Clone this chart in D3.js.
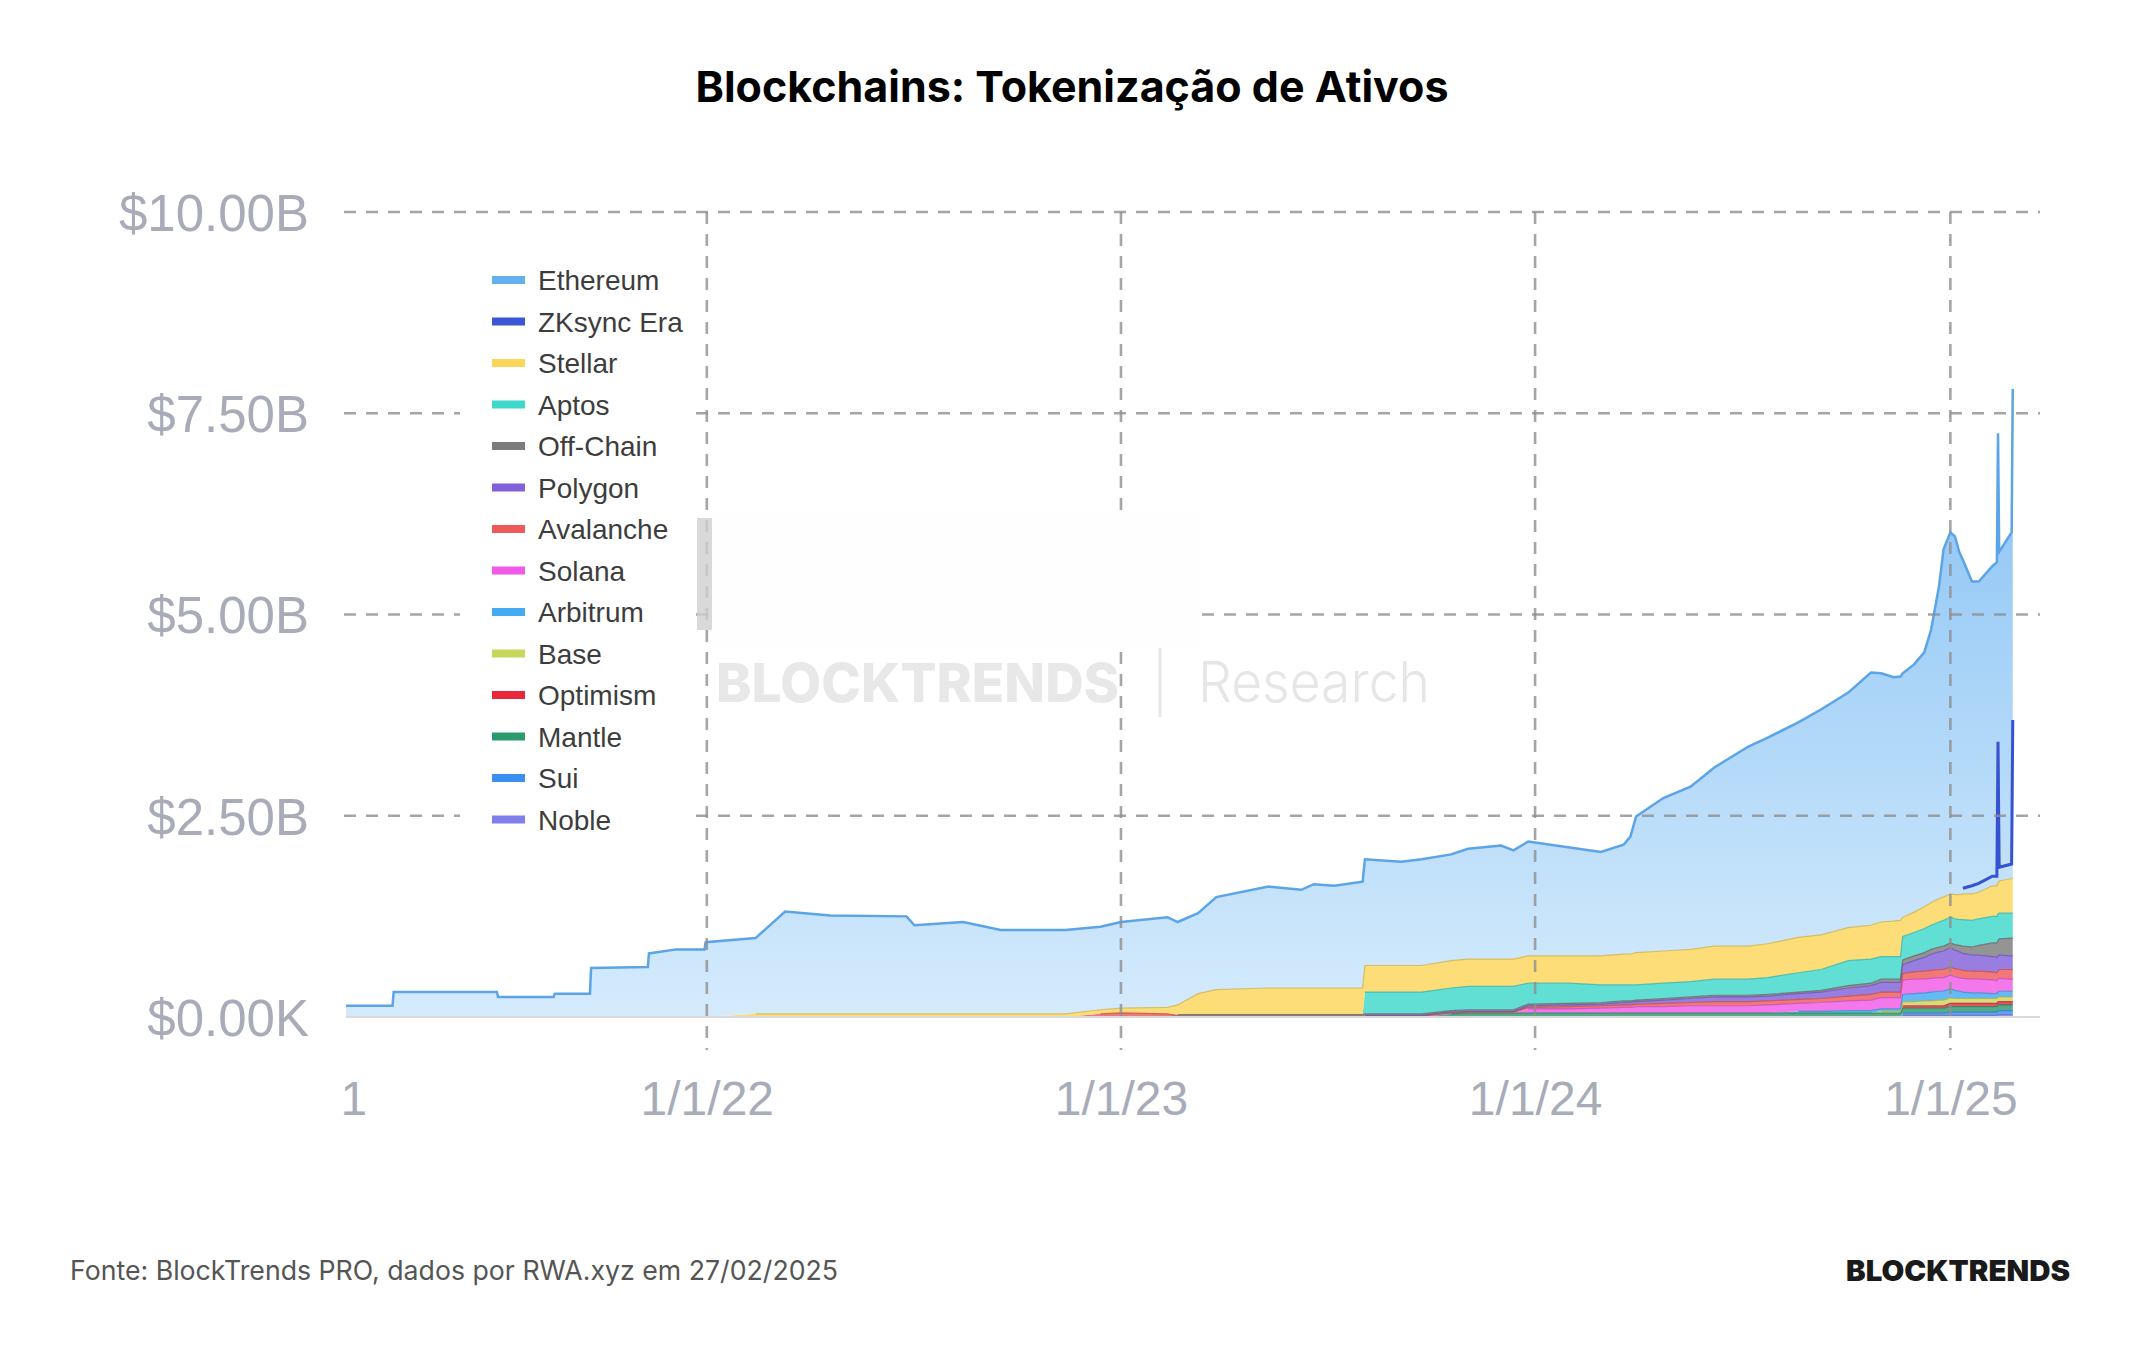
<!DOCTYPE html>
<html>
<head>
<meta charset="utf-8">
<script src="https://cdn.jsdelivr.net/npm/d3@7"></script>
<style>
  html, body { margin: 0; padding: 0; background: #fff; }
  svg { display: block; }
</style>
</head>
<body>
<div id="chart"></div>
<script>
//#region Data (values in $ billions)
const dates = [
  "2021-02-17", "2021-03-30", "2021-03-31", "2021-06-30", "2021-07-01", "2021-08-19", "2021-08-20",
  "2021-09-20", "2021-09-21", "2021-11-10", "2021-11-11", "2021-12-05", "2021-12-30", "2021-12-31",
  "2022-02-13", "2022-03-11", "2022-04-20", "2022-06-26", "2022-07-03", "2022-08-15", "2022-09-17",
  "2022-11-13", "2022-12-14", "2023-01-01", "2023-02-11", "2023-02-20", "2023-03-10", "2023-03-26",
  "2023-05-11", "2023-06-09", "2023-06-20", "2023-07-08", "2023-08-02", "2023-08-04", "2023-09-05",
  "2023-09-23", "2023-10-19", "2023-11-03", "2023-12-02", "2023-12-13", "2023-12-26", "2024-01-30",
  "2024-02-28", "2024-03-19", "2024-03-25", "2024-03-30", "2024-04-23", "2024-05-17", "2024-06-07",
  "2024-07-07", "2024-07-24", "2024-08-20", "2024-09-09", "2024-10-03", "2024-10-23", "2024-11-01",
  "2024-11-12", "2024-11-18", "2024-11-20", "2024-11-30", "2024-12-09", "2024-12-15", "2024-12-22",
  "2024-12-26", "2025-01-01", "2025-01-05", "2025-01-09", "2025-01-12", "2025-01-20", "2025-01-26",
  "2025-02-07", "2025-02-11", "2025-02-12", "2025-02-13", "2025-02-24", "2025-02-25"
];

const ethereum = [
  0.14, 0.14, 0.31, 0.31, 0.25, 0.25, 0.29, 0.29, 0.61, 0.62, 0.79, 0.84, 0.84, 0.93,
  0.94, 1.27, 1.22, 1.21, 1.10, 1.14, 1.04, 1.04,
  1.03, 1.07, 1.12, 1.03, 1.00, 1.15, 1.26, 1.22, 1.29, 1.27, 1.32,
  1.32, 1.29, 1.32, 1.32, 1.37, 1.41, 1.35, 1.42, 1.35, 1.29, 1.36, 1.46, 1.69, 1.90, 2.02, 2.22,
  2.48, 2.56, 2.67, 2.80, 2.92, 3.14, 3.09, 3.03, 3.03,
  3.03, 3.08, 3.16, 3.39, 3.88, 4.32, 4.49, 4.45, 4.25, 4.08, 3.78, 3.75, 3.85, 3.90, 3.83, 3.92, 4.12, 4.11
];
const zksync = [
  0, 0, 0, 0, 0, 0, 0, 0, 0, 0, 0, 0, 0, 0,
  0, 0, 0, 0, 0, 0, 0, 0,
  0, 0, 0, 0, 0, 0, 0, 0, 0, 0, 0,
  0, 0, 0, 0, 0, 0, 0, 0, 0, 0, 0, 0, 0, 0, 0, 0,
  0, 0, 0, 0, 0, 0, 0, 0, 0,
  0, 0, 0, 0, 0, 0, 0, 0, 0, 0.07, 0.10, 0.11, 0.12, 0.12, 1.76, 0.17, 0.18, 1.96
];
const stellar = [
  0, 0, 0, 0, 0, 0, 0, 0, 0, 0, 0, 0, 0, 0,
  0.04, 0.04, 0.04, 0.04, 0.04, 0.04, 0.04, 0.04,
  0.05, 0.06, 0.08, 0.12, 0.26, 0.31, 0.33, 0.33, 0.33, 0.33, 0.33,
  0.33, 0.33, 0.33, 0.34, 0.34, 0.34, 0.34, 0.34, 0.34, 0.36, 0.38, 0.38, 0.40, 0.40, 0.40, 0.41,
  0.41, 0.42, 0.44, 0.43, 0.41, 0.42, 0.43, 0.44, 0.45,
  0.24, 0.25, 0.27, 0.28, 0.29, 0.29, 0.29, 0.30, 0.31, 0.32, 0.33, 0.33, 0.38, 0.38, 0.38, 0.40, 0.43, 0.44
];
const aptos = [
  0, 0, 0, 0, 0, 0, 0, 0, 0, 0, 0, 0, 0, 0,
  0, 0, 0, 0, 0, 0, 0, 0,
  0, 0, 0, 0, 0, 0, 0, 0, 0, 0, 0,
  0.27, 0.27, 0.27, 0.28, 0.29, 0.29, 0.29, 0.26, 0.25, 0.22, 0.20, 0.20, 0.19, 0.19, 0.19, 0.20,
  0.20, 0.21, 0.24, 0.26, 0.31, 0.30, 0.28, 0.28, 0.28,
  0.29, 0.29, 0.30, 0.30, 0.31, 0.32, 0.32, 0.32, 0.32, 0.33, 0.33, 0.33, 0.33, 0.33, 0.33, 0.32, 0.31, 0.31
];
const offChain = [
  0, 0, 0, 0, 0, 0, 0, 0, 0, 0, 0, 0, 0, 0,
  0, 0, 0, 0, 0, 0, 0, 0,
  0, 0, 0, 0.02, 0.02, 0.02, 0.02, 0.02, 0.02, 0.02, 0.02,
  0.02, 0.02, 0.02, 0.02, 0.02, 0.02, 0.02, 0.02, 0.02, 0.02, 0.02, 0.02, 0.02, 0.02, 0.02, 0.02,
  0.02, 0.02, 0.02, 0.02, 0.03, 0.03, 0.04, 0.04, 0.04,
  0.06, 0.06, 0.06, 0.06, 0.06, 0.06, 0.06, 0.07, 0.08, 0.09, 0.10, 0.12, 0.17, 0.18, 0.19, 0.20, 0.22, 0.22
];
const polygon = [
  0, 0, 0, 0, 0, 0, 0, 0, 0, 0, 0, 0, 0, 0,
  0, 0, 0, 0, 0, 0, 0, 0,
  0, 0, 0, 0, 0, 0, 0, 0, 0, 0, 0,
  0.01, 0.01, 0.01, 0.01, 0.01, 0.01, 0.01, 0.02, 0.02, 0.02, 0.03, 0.03, 0.03, 0.04, 0.05, 0.06,
  0.06, 0.06, 0.07, 0.08, 0.10, 0.11, 0.12, 0.12, 0.12,
  0.11, 0.14, 0.17, 0.20, 0.22, 0.23, 0.24, 0.23, 0.22, 0.21, 0.20, 0.20, 0.19, 0.19, 0.19, 0.18, 0.17, 0.17
];
const avalanche = [
  0, 0, 0, 0, 0, 0, 0, 0, 0, 0, 0, 0, 0, 0,
  0, 0, 0, 0, 0, 0, 0, 0,
  0.04, 0.05, 0.04, 0.01, 0.01, 0.01, 0.01, 0.01, 0.01, 0.01, 0.01,
  0.01, 0.01, 0.01, 0.01, 0.01, 0.01, 0.01, 0.02, 0.03, 0.03, 0.03, 0.03, 0.03, 0.04, 0.04, 0.05,
  0.05, 0.05, 0.05, 0.05, 0.06, 0.07, 0.07, 0.07, 0.07,
  0.08, 0.09, 0.10, 0.10, 0.10, 0.10, 0.10, 0.10, 0.10, 0.10, 0.10, 0.10, 0.10, 0.10, 0.10, 0.11, 0.12, 0.12
];
const solana = [
  0, 0, 0, 0, 0, 0, 0, 0, 0, 0, 0, 0, 0, 0,
  0, 0, 0, 0, 0, 0, 0, 0,
  0, 0, 0, 0, 0, 0, 0, 0, 0, 0, 0,
  0, 0, 0, 0, 0, 0, 0, 0.05, 0.05, 0.06, 0.07, 0.07, 0.08, 0.08, 0.09, 0.09,
  0.09, 0.10, 0.10, 0.11, 0.12, 0.13, 0.14, 0.14, 0.14,
  0.18, 0.18, 0.17, 0.17, 0.17, 0.17, 0.17, 0.17, 0.17, 0.17, 0.17, 0.17, 0.17, 0.16, 0.16, 0.16, 0.15, 0.15
];
const arbitrum = [
  0, 0, 0, 0, 0, 0, 0, 0, 0, 0, 0, 0, 0, 0,
  0, 0, 0, 0, 0, 0, 0, 0,
  0, 0, 0, 0, 0, 0, 0, 0, 0, 0, 0,
  0, 0, 0, 0, 0, 0, 0, 0, 0, 0, 0, 0, 0, 0, 0, 0,
  0, 0, 0.02, 0.02, 0.03, 0.03, 0.03, 0.03, 0.03,
  0.09, 0.10, 0.10, 0.11, 0.11, 0.11, 0.11, 0.10, 0.09, 0.08, 0.07, 0.07, 0.06, 0.06, 0.06, 0.07, 0.07, 0.07
];
const base = [
  0, 0, 0, 0, 0, 0, 0, 0, 0, 0, 0, 0, 0, 0,
  0, 0, 0, 0, 0, 0, 0, 0,
  0, 0, 0, 0, 0, 0, 0, 0, 0, 0, 0,
  0, 0, 0, 0, 0, 0, 0, 0, 0, 0, 0, 0, 0, 0, 0, 0,
  0, 0, 0, 0, 0, 0, 0.02, 0.02, 0.02,
  0.05, 0.05, 0.06, 0.06, 0.07, 0.07, 0.07, 0.06, 0.06, 0.06, 0.06, 0.06, 0.06, 0.06, 0.06, 0.06, 0.06, 0.06
];
const optimism = [
  0, 0, 0, 0, 0, 0, 0, 0, 0, 0, 0, 0, 0, 0,
  0, 0, 0, 0, 0, 0, 0, 0,
  0, 0, 0, 0, 0, 0, 0, 0, 0, 0, 0,
  0, 0, 0, 0, 0, 0, 0, 0, 0, 0, 0, 0, 0, 0, 0, 0,
  0, 0, 0, 0, 0, 0, 0, 0, 0,
  0.03, 0.03, 0.03, 0.03, 0.03, 0.03, 0.04, 0.04, 0.04, 0.04, 0.04, 0.04, 0.04, 0.04, 0.04, 0.04, 0.04, 0.04
];
const mantle = [
  0, 0, 0, 0, 0, 0, 0, 0, 0, 0, 0, 0, 0, 0,
  0, 0, 0, 0, 0, 0, 0, 0,
  0, 0, 0, 0, 0, 0, 0, 0, 0, 0, 0,
  0, 0, 0, 0.04, 0.05, 0.05, 0.05, 0.05, 0.05, 0.05, 0.05, 0.05, 0.05, 0.05, 0.05, 0.05,
  0.05, 0.05, 0.05, 0.05, 0.05, 0.05, 0.05, 0.05, 0.05,
  0.06, 0.06, 0.06, 0.06, 0.06, 0.06, 0.07, 0.07, 0.07, 0.07, 0.07, 0.07, 0.07, 0.07, 0.07, 0.07, 0.07, 0.07
];
const sui = [
  0, 0, 0, 0, 0, 0, 0, 0, 0, 0, 0, 0, 0, 0,
  0, 0, 0, 0, 0, 0, 0, 0,
  0, 0, 0, 0, 0, 0, 0, 0, 0, 0, 0,
  0, 0, 0, 0, 0, 0, 0, 0, 0, 0, 0, 0, 0, 0, 0, 0,
  0, 0, 0, 0, 0, 0, 0, 0, 0,
  0.03, 0.03, 0.03, 0.03, 0.03, 0.03, 0.04, 0.04, 0.04, 0.04, 0.04, 0.04, 0.04, 0.04, 0.05, 0.05, 0.05, 0.05
];
const noble = [
  0, 0, 0, 0, 0, 0, 0, 0, 0, 0, 0, 0, 0, 0,
  0, 0, 0, 0, 0, 0, 0, 0,
  0, 0, 0, 0, 0, 0, 0, 0, 0, 0, 0,
  0, 0, 0, 0, 0, 0, 0, 0, 0, 0, 0, 0, 0, 0, 0, 0,
  0, 0, 0, 0, 0, 0, 0, 0, 0,
  0.02, 0.02, 0.02, 0.02, 0.02, 0.02, 0.02, 0.02, 0.02, 0.02, 0.02, 0.02, 0.02, 0.02, 0.03, 0.03, 0.03, 0.03
];

// legend order = top of the stack first
const seriesNames = [
  "Ethereum", "ZKsync Era", "Stellar", "Aptos", "Off-Chain", "Polygon", "Avalanche",
  "Solana", "Arbitrum", "Base", "Optimism", "Mantle", "Sui", "Noble"
];
const seriesColors = [
  "#63b0f0", "#3b57d6", "#fbd65a", "#3fd8cc", "#7c7c7c", "#8161d9", "#ee5a5a",
  "#f05ae6", "#44aaf2", "#c9d65c", "#e8283a", "#2c9a6c", "#3b8ff0", "#7f80ea"
];
const seriesValues = [
  ethereum, zksync, stellar, aptos, offChain, polygon, avalanche,
  solana, arbitrum, base, optimism, mantle, sui, noble
];

const yTicks = [0, 2.5, 5, 7.5, 10];
const yTickLabels = ["$0.00K", "$2.50B", "$5.00B", "$7.50B", "$10.00B"];
const xTicks = ["2021-02-17", "2022-01-01", "2023-01-01", "2024-01-01", "2025-01-01"];
const xTickLabels = ["1", "1/1/22", "1/1/23", "1/1/24", "1/1/25"];
//#endregion

seriesValues.forEach((arr, i) => {
  if (arr.length !== dates.length) console.error("length mismatch", seriesNames[i], arr.length);
});

//#region Setup
const width = 2144, height = 1350;
const parseDate = d3.timeParse("%Y-%m-%d");
const labelColor = "#a8acb8";
const gridColor = "#8f8f8f";

const svg = d3.select("#chart").append("svg")
  .attr("width", width)
  .attr("height", height)
  .attr("viewBox", `0 0 ${width} ${height}`);

svg.append("rect").attr("width", width).attr("height", height).attr("fill", "#fff");

const scaleX = d3.scaleTime()
  .domain([parseDate("2021-02-17"), parseDate("2025-03-21")])
  .range([346, 2040]);
const scaleY = d3.scaleLinear()
  .domain([0, 10])
  .range([1017, 212]);

const rows = dates.map((d, i) => {
  const row = { date: parseDate(d) };
  seriesNames.forEach((name, s) => { row[name] = seriesValues[s][i]; });
  return row;
});
const stackKeys = seriesNames.slice().reverse(); // bottom of stack first
const layers = d3.stack().keys(stackKeys)(rows);
const colorOf = name => seriesColors[seriesNames.indexOf(name)];
//#endregion

//#region Gradient for Ethereum fill
const defs = svg.append("defs");
const grad = defs.append("linearGradient")
  .attr("id", "ethFill")
  .attr("gradientUnits", "userSpaceOnUse")
  .attr("x1", 0).attr("x2", 0)
  .attr("y1", scaleY(8)).attr("y2", scaleY(0));
grad.append("stop").attr("offset", "0%").attr("stop-color", "#82bff4");
grad.append("stop").attr("offset", "100%").attr("stop-color", "#d5ebfc");
//#endregion

//#region Watermark and patch
const wm = svg.append("g").attr("id", "watermark");
wm.append("text")
  .text("BLOCKTRENDS")
  .attr("x", 716).attr("y", 702)
  .attr("textLength", 403)
  .attr("lengthAdjust", "spacingAndGlyphs")
  .style("font-family", "Inter, 'Open Sans', sans-serif")
  .style("font-weight", 800)
  .style("font-size", "54px")
  .style("fill", "#e8e8e8");
wm.append("line")
  .attr("x1", 1160).attr("x2", 1160)
  .attr("y1", 648).attr("y2", 717)
  .style("stroke", "#e6e6e6")
  .style("stroke-width", 3);
wm.append("text")
  .text("Research")
  .attr("x", 1198).attr("y", 702)
  .attr("textLength", 232)
  .attr("lengthAdjust", "spacingAndGlyphs")
  .style("font-family", "Inter, 'Open Sans', sans-serif")
  .style("font-weight", 300)
  .style("font-size", "56px")
  .style("fill", "#e6e6e6");
//#endregion

//#region Areas
const area = d3.area()
  .x(d => scaleX(d.data.date))
  .y0(d => scaleY(d[0]))
  .y1(d => scaleY(d[1]));
const topLine = d3.line()
  .x(d => scaleX(d.data.date))
  .y(d => scaleY(d[1]));

const areaGroup = svg.append("g").attr("id", "areas");
layers.forEach(layer => {
  const name = layer.key;
  const isBlue = name === "Ethereum" || name === "ZKsync Era";
  areaGroup.append("path")
    .datum(layer)
    .attr("d", area)
    .style("fill", isBlue ? "url(#ethFill)" : colorOf(name))
    .style("fill-opacity", isBlue ? 1 : 0.82)
    .style("stroke", "none");
});

// top edges of the smaller layers
layers.forEach(layer => {
  const name = layer.key;
  if (name === "Ethereum" || name === "ZKsync Era") return;
  areaGroup.append("path")
    .datum(layer)
    .attr("d", topLine.defined(d => d[1] - d[0] > 0)(layer))
    .style("fill", "none")
    .style("stroke", d3.color(colorOf(name)).darker(0.5))
    .style("stroke-width", 1.2)
    .style("stroke-opacity", 0.8);
});

const zkLayer = layers.find(l => l.key === "ZKsync Era");
const ethLayer = layers.find(l => l.key === "Ethereum");
areaGroup.append("path")
  .attr("d", d3.line()
    .defined(d => d[1] - d[0] > 0)
    .x(d => scaleX(d.data.date))
    .y(d => scaleY(d[1]))(zkLayer))
  .style("fill", "none")
  .style("stroke", "#3553d0")
  .style("stroke-width", 3);
areaGroup.append("path")
  .attr("d", d3.line()
    .x(d => scaleX(d.data.date))
    .y(d => scaleY(d[1]))(ethLayer))
  .style("fill", "none")
  .style("stroke", "#5ba4e7")
  .style("stroke-width", 2.5);
//#endregion

//#region Grid
const grid = svg.append("g").attr("id", "grid");
grid.append("line")
  .attr("x1", scaleX.range()[0]).attr("x2", scaleX.range()[1])
  .attr("y1", scaleY(0)).attr("y2", scaleY(0))
  .style("stroke", "#dadada")
  .style("stroke-width", 2);
grid.selectAll("line.h")
  .data(yTicks.filter(v => v > 0))
  .enter()
  .append("line")
  .attr("class", "h")
  .attr("x1", scaleX.range()[0] - 2).attr("x2", scaleX.range()[1])
  .attr("y1", d => scaleY(d)).attr("y2", d => scaleY(d))
  .style("stroke", gridColor)
  .style("stroke-opacity", 0.8)
  .style("stroke-width", 2.6)
  .style("stroke-dasharray", "12,10");
grid.selectAll("line.v")
  .data(xTicks.slice(1).map(parseDate))
  .enter()
  .append("line")
  .attr("class", "v")
  .attr("x1", d => scaleX(d)).attr("x2", d => scaleX(d))
  .attr("y1", scaleY(10)).attr("y2", 1050)
  .style("stroke", gridColor)
  .style("stroke-opacity", 0.8)
  .style("stroke-width", 2.6)
  .style("stroke-dasharray", "12,10");

// patch over the grid that is in the source picture
svg.append("rect")
  .attr("x", 713).attr("y", 512).attr("width", 487).attr("height", 135)
  .style("fill", "#fefefe");
svg.append("rect")
  .attr("x", 697).attr("y", 518).attr("width", 15).attr("height", 112)
  .style("fill", "#cfcfcf")
  .style("opacity", 0.8);
//#endregion

//#region Axes
const axisY = d3.axisLeft(scaleY)
  .tickValues(yTicks)
  .tickFormat((d, i) => yTickLabels[i])
  .tickSize(0)
  .tickPadding(37);
const gY = svg.append("g")
  .attr("transform", `translate(${scaleX.range()[0]},0)`)
  .call(axisY);
gY.select(".domain").remove();
gY.selectAll("text")
  .attr("dy", "0.36em")
  .style("font-family", "'Liberation Sans', Arial, sans-serif")
  .style("font-size", "51px")
  .style("fill", labelColor);

const axisX = d3.axisBottom(scaleX)
  .tickValues(xTicks.map(parseDate))
  .tickFormat((d, i) => xTickLabels[i])
  .tickSize(0)
  .tickPadding(64);
const gX = svg.append("g")
  .attr("transform", `translate(0,${scaleY(0)})`)
  .call(axisX);
gX.select(".domain").remove();
gX.selectAll("text")
  .style("font-family", "'Liberation Sans', Arial, sans-serif")
  .style("font-size", "48px")
  .style("fill", labelColor);
gX.selectAll(".tick").filter((d, i) => i === 0).select("text")
  .attr("text-anchor", "start")
  .attr("dx", -6);
//#endregion

//#region Legend
const legend = svg.append("g").attr("id", "legend");
legend.append("rect")
  .attr("x", 460).attr("y", 246).attr("width", 232).attr("height", 604)
  .style("fill", "#fff");
const legendRow = legend.selectAll("g.row")
  .data(seriesNames)
  .enter()
  .append("g")
  .attr("class", "row")
  .attr("transform", (d, i) => `translate(492, ${280 + i * 41.5})`);
legendRow.append("rect")
  .attr("x", 0).attr("y", -4)
  .attr("width", 33).attr("height", 8)
  .style("fill", (d, i) => seriesColors[i]);
legendRow.append("text")
  .text(d => d)
  .attr("x", 46).attr("y", 10)
  .style("font-family", "'Liberation Sans', Arial, sans-serif")
  .style("font-size", "28px")
  .style("fill", "#3d3d3d");
//#endregion

//#region Title and footer
svg.append("text")
  .text("Blockchains: Tokenização de Ativos")
  .attr("x", 1072).attr("y", 102)
  .attr("text-anchor", "middle")
  .style("font-family", "Inter, sans-serif")
  .style("font-weight", 700)
  .style("font-size", "43px")
  .style("fill", "#000");

svg.append("text")
  .text("Fonte: BlockTrends PRO, dados por RWA.xyz em 27/02/2025")
  .attr("x", 70).attr("y", 1280)
  .style("font-family", "Inter, sans-serif")
  .style("font-size", "26.7px")
  .style("fill", "#555");

svg.append("text")
  .text("BLOCKTRENDS")
  .attr("x", 2070).attr("y", 1281)
  .attr("text-anchor", "end")
  .attr("textLength", 224)
  .attr("lengthAdjust", "spacingAndGlyphs")
  .style("font-family", "Inter, sans-serif")
  .style("font-weight", 900)
  .style("font-size", "29px")
  .style("fill", "#1a1a1a");
//#endregion
</script>
</body>
</html>
